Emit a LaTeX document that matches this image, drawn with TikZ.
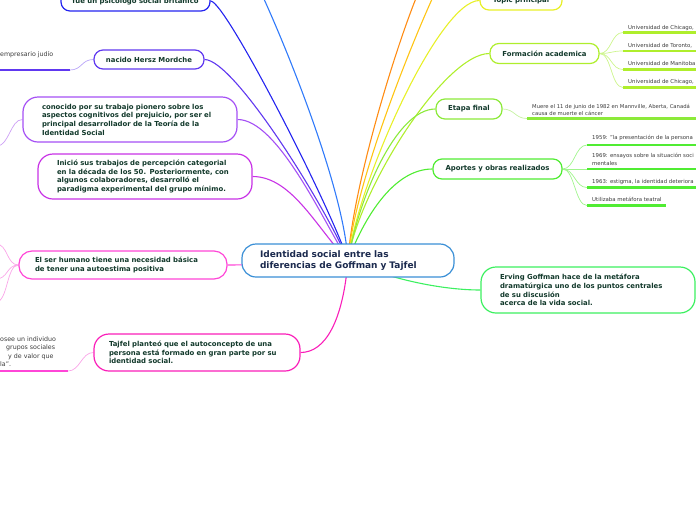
\documentclass[tikz,border=0pt]{standalone}
\usepackage{fontspec}
\setmainfont{DejaVu Sans}
\usepackage{tikz}
\usetikzlibrary{backgrounds}
\definecolor{txtgreen}{RGB}{18,57,43}
\definecolor{txtnavy}{RGB}{27,42,78}
\definecolor{leafgrey}{RGB}{60,60,60}
\definecolor{rootblue}{RGB}{58,143,214}
\definecolor{cblue}{RGB}{48,122,250}
\definecolor{cdarkblue}{RGB}{36,36,240}
\definecolor{cviolet}{RGB}{96,56,240}
\definecolor{cpurple}{RGB}{165,80,245}
\definecolor{cmagpurple}{RGB}{200,50,230}
\definecolor{cpink}{RGB}{255,70,215}
\definecolor{cmagenta}{RGB}{250,30,185}
\definecolor{corange}{RGB}{255,140,20}
\definecolor{cgold}{RGB}{255,196,20}
\definecolor{cyellow}{RGB}{232,240,40}
\definecolor{cyelgreen}{RGB}{175,238,44}
\definecolor{cgreenyel}{RGB}{140,234,58}
\definecolor{cgreen}{RGB}{80,236,50}
\definecolor{clightgreen}{RGB}{60,240,96}
\definecolor{leafyel}{RGB}{205,245,140}
\definecolor{leafetapa}{RGB}{196,242,160}
\definecolor{leafaportes}{RGB}{160,245,140}
\definecolor{leafviolet}{RGB}{185,165,248}
\definecolor{leafpurple}{RGB}{205,160,245}
\definecolor{leafpink}{RGB}{250,165,232}
\tikzset{
  topic/.style={rectangle, draw, fill=white, line width=1.2pt,
    rounded corners=9pt, minimum height=20pt, align=center,
    text=txtgreen, font=\fontsize{6.9}{8.7}\selectfont\bfseries, inner sep=2pt},
  bigtopic/.style={topic, rounded corners=15pt, align=left, text width=176pt},
  roottopic/.style={bigtopic, draw=rootblue, text=txtnavy,
    font=\fontsize{9}{11}\selectfont\bfseries, rounded corners=14pt},
  branch/.style={line width=1.1pt},
  leafline/.style={line width=0.7pt},
  underline/.style={line width=2.4pt},
  leaftext/.style={text=leafgrey, inner sep=0pt, align=left, anchor=base west,
    font=\fontsize{5.4}{7.5}\selectfont},
  lefttext/.style={leaftext, font=\fontsize{6.3}{8.3}\selectfont}
}
\begin{document}
\begin{tikzpicture}[x=1pt, y=-1pt]
  \useasboundingbox (0,0) rectangle (696,520);

  % central topic
  \node[roottopic, inner xsep=18pt, minimum height=33pt] (root) at (348,260.5)
    {Identidad social entre las\\diferencias de Goffman y Tajfel};

  % left branches
  \node[topic, draw=cdarkblue, minimum width=149pt] (britanico) at (135.5,1)
    {fue un psicólogo social británico};
  \node[topic, draw=cviolet, minimum width=110pt, minimum height=19pt] (mordche) at (149,59.5)
    {nacido Hersz Mordche};
  \node[bigtopic, draw=cpurple, inner xsep=19pt, minimum height=45pt] (pionero) at (130,119.5)
    {conocido por su trabajo pionero sobre los\\aspectos cognitivos del prejuicio, por ser el\\principal desarrollador de la Teoría de la\\Identidad Social};
  \node[bigtopic, draw=cmagpurple, inner xsep=19pt, minimum height=45pt] (categorial) at (145,176.5)
    {Inició sus trabajos de percepción categorial\\en la década de los 50. Posteriormente, con\\algunos colaboradores, desarrolló el\\paradigma experimental del grupo mínimo.};
  \node[bigtopic, draw=cpink, inner xsep=16pt, minimum height=28pt, rounded corners=13pt] (autoestima) at (123,265)
    {El ser humano tiene una necesidad básica\\de tener una autoestima positiva};
  \node[bigtopic, draw=cmagenta, inner xsep=15pt, minimum height=37pt] (autoconcepto) at (197,352.5)
    {Tajfel planteó que el autoconcepto de una\\persona está formado en gran parte por su\\identidad social.};

  % right branches
  \node[topic, draw=cyellow, minimum width=82pt, minimum height=19pt] (topic) at (521,0.5)
    {Topic principal};
  \node[topic, draw=cyelgreen, minimum width=109pt] (formacion) at (544.5,53.5)
    {Formación academica};
  \node[topic, draw=cgreenyel, minimum width=66pt] (etapa) at (469,109)
    {Etapa final};
  \node[topic, draw=cgreen, minimum width=129pt] (aportes) at (497.5,169)
    {Aportes y obras realizados};
  \node[bigtopic, draw=clightgreen, inner xsep=19pt, minimum height=46pt] (metafora) at (588,290)
    {Erving Goffman hace de la metáfora\\dramatúrgica uno de los puntos centrales\\de su discusión\\acerca de la vida social.};

  % free ends
  \coordinate (offblue) at (255,-20);
  \coordinate (offorange) at (424,-20);
  \coordinate (offgold) at (441,-20);
  \coordinate (judio) at (70,70);
  \coordinate (prejuicioleaf) at (-3,146);
  \coordinate (estimaA) at (-4,244);
  \coordinate (estimaB) at (-4,279);
  \coordinate (estimaC) at (-4,302);
  \coordinate (grupos) at (68,371);
  \coordinate (uniA) at (623,32.5);
  \coordinate (uniB) at (623,51);
  \coordinate (uniC) at (623,69.5);
  \coordinate (uniD) at (623,87.5);
  \coordinate (muerte) at (527,118.5);
  \coordinate (obraA) at (587,145);
  \coordinate (obraB) at (587,169);
  \coordinate (obraC) at (587,187.5);
  \coordinate (obraD) at (587,205.5);

  % leaf texts
  \node[lefttext] (empresario) at (0,56) {empresario judío};
  \node[lefttext] (defA) at (0,341) {osee un individuo};
  \node[lefttext] (defB) at (6,349.5) {grupos sociales};
  \node[lefttext] (defC) at (8,358) {y de valor que};
  \node[lefttext] (defD) at (0,366) {la".};
  \node[leaftext] (chicagoA) at (628,29) {Universidad de Chicago,};
  \node[leaftext] (toronto) at (628,47) {Universidad de Toronto,};
  \node[leaftext] (manitoba) at (628,65.5) {Universidad de Manitoba};
  \node[leaftext] (chicagoB) at (628,83.5) {Universidad de Chicago,};
  \node[leaftext, font=\fontsize{5.3}{7.2}\selectfont] (mannville) at (532,115.5)
    {Muere el 11 de junio de 1982 en Mannville, Aberta, Canadá\\causa de muerte el cáncer};
  \node[leaftext] (obra59) at (592,139.5) {1959: "la presentación de la persona};
  \node[leaftext] (obra69) at (592,165) {1969: ensayos sobre la situación soci\\mentales};
  \node[leaftext] (obra63) at (592,183) {1963: estigma, la identidad deteriora};
  \node[leaftext] (teatral) at (592,201) {Utilizaba metáfora teatral};

  \begin{pgfonlayer}{background}
    % main connectors
    \draw[branch, cblue] (root.center) .. controls +(-5,-80) and +(20,40) .. (offblue);
    \draw[branch, cdarkblue] (root.center) .. controls +(-18,-55) and +(15,0) .. (britanico.east);
    \draw[branch, cviolet] (root.center) .. controls +(-20,-50) and +(30,0) .. (mordche.east);
    \draw[branch, cpurple] (root.center) .. controls +(-25,-40) and +(40,0) .. (pionero.east);
    \draw[branch, cmagpurple] (root.center) .. controls +(-30,-30) and +(40,0) .. (categorial.east);
    \draw[branch, cpink] (root.center) .. controls +(-40,0) and +(40,0) .. (autoestima.east);
    \draw[branch, cmagenta] (root.center) .. controls +(-5,60) and +(25,0) .. (autoconcepto.east);
    \draw[branch, corange] (root.center) .. controls +(5,-80) and +(-20,40) .. (offorange);
    \draw[branch, cgold] (root.center) .. controls +(6,-80) and +(-20,40) .. (offgold);
    \draw[branch, cyellow] (root.center) .. controls +(10,-80) and +(-40,0) .. (topic.west);
    \draw[branch, cyelgreen] (root.center) .. controls +(10,-70) and +(-45,0) .. (formacion.west);
    \draw[branch, cgreenyel] (root.center) .. controls +(10,-60) and +(-40,0) .. (etapa.west);
    \draw[branch, cgreen] (root.center) .. controls +(15,-40) and +(-40,0) .. (aportes.west);
    \draw[branch, clightgreen] (root.center) .. controls +(40,18) and +(-40,0) .. (metafora.west);

    % leaves on the left
    \draw[leafline, leafviolet] (mordche.west) .. controls +(-12,0) and +(12,0) .. (judio);
    \draw[underline, cviolet] (judio) -- ++(-80,0);
    \draw[leafline, leafpurple] (pionero.west) .. controls +(-12,0) and +(12,0) .. (prejuicioleaf);
    \foreach \leaf in {estimaA, estimaB, estimaC}
      \draw[leafline, leafpink] (autoestima.west) .. controls +(-12,0) and +(12,0) .. (\leaf);
    \draw[leafline, leafpink] (autoconcepto.west) .. controls +(-12,0) and +(12,0) .. (grupos);
    \draw[underline, cpink] (grupos) -- ++(-80,0);

    % leaves on the right
    \foreach \leaf in {uniA, uniB, uniC, uniD} {
      \draw[leafline, leafyel] (formacion.east) .. controls +(12,0) and +(-12,0) .. (\leaf);
      \draw[underline, cyelgreen] (\leaf) -- ++(80,0);
    }
    \draw[leafline, leafetapa] (etapa.east) .. controls +(12,0) and +(-12,0) .. (muerte);
    \draw[underline, cgreenyel] (muerte) -- ++(180,0);
    \foreach \leaf in {obraA, obraB, obraC, obraD}
      \draw[leafline, leafaportes] (aportes.east) .. controls +(12,0) and +(-12,0) .. (\leaf);
    \foreach \leaf in {obraA, obraB, obraC}
      \draw[underline, cgreen] (\leaf) -- ++(120,0);
    \draw[underline, cgreen] (obraD) -- ++(79,0);
  \end{pgfonlayer}
\end{tikzpicture}
\end{document}
